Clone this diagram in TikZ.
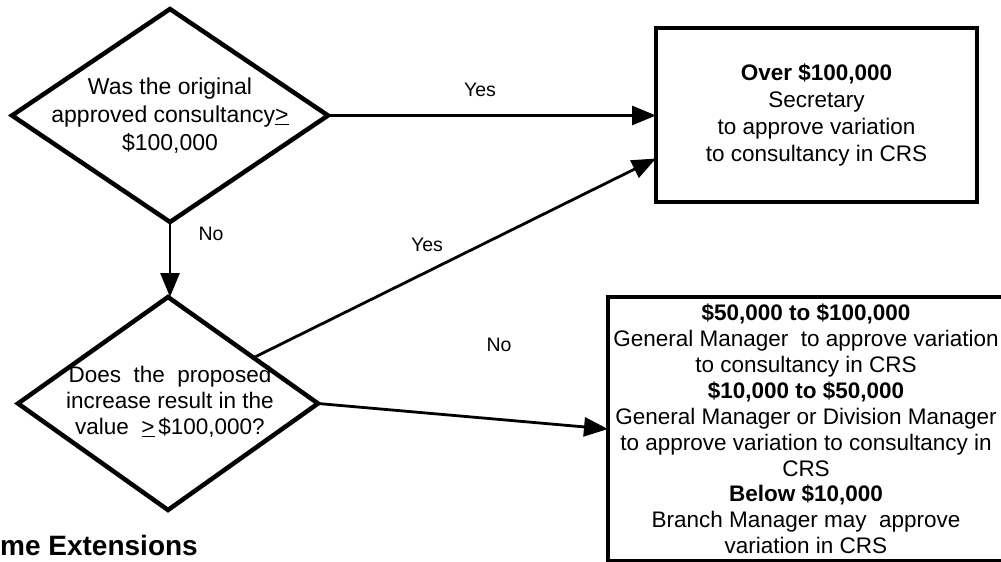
\documentclass[tikz,border=0pt]{standalone}
\usepackage{fontspec}
\setmainfont{Liberation Sans}
\usetikzlibrary{shapes.geometric,arrows.meta,calc}
\begin{document}
\begin{tikzpicture}[x=1pt,y=-1pt,
  dia/.style={draw,shape=diamond,line width=4.5pt,inner sep=0pt,outer sep=0pt},
  boxnode/.style={draw,rectangle,line width=4pt,inner sep=0pt,outer sep=0pt,align=center},
  txt/.style={align=center,inner sep=0pt},
  conn/.style={line width=2.8pt,-{Triangle[length=24pt,width=19pt]}},
  lbl/.style={inner sep=0pt,font=\fontsize{19.5}{23}\selectfont}]
\useasboundingbox (0,0) rectangle (1001,562);
\clip (0,0) rectangle (1001,562);
\fill[white] (0,0) rectangle (1001,562);

% decisions
\node[dia,minimum width=316pt,minimum height=213pt] (d1) at (170,115.5) {};
\node[txt,font=\fontsize{23}{28}\selectfont] (t1) at (170,116)
  {Was the original\\approved consultancy\underline{>}\\\$100,000};
\node[dia,minimum width=300pt,minimum height=213pt] (d2) at (168,403.5) {};
\node[txt,font=\fontsize{22.5}{25.8}\selectfont] (t2) at (170,402)
  {Does\ \ the\ \ proposed\\increase result in the\\value\ \ \underline{>}\,\$100,000?};

% outcomes
\node[boxnode,minimum width=321pt,minimum height=174pt,
      font=\fontsize{22.5}{26.8}\selectfont] (b1) at (816.5,115)
  {\textbf{Over \$100,000}\\Secretary\\to approve variation\\to consultancy in CRS};
\node[boxnode,minimum width=396pt,minimum height=264pt,
      font=\fontsize{22.5}{25.9}\selectfont] (b2) at (806,429)
  {\textbf{\$50,000 to \$100,000}\\General Manager\ \ to approve variation\\to consultancy in CRS\\
   \textbf{\$10,000 to \$50,000}\\General Manager or Division Manager\\to approve variation to consultancy in\\CRS\\
   \textbf{Below \$10,000}\\Branch Manager may\ \ approve\\variation in CRS};

% connectors
\draw[conn] (d1.east) -- (b1.west |- d1.east);
\draw[conn] (d1.south) -- (d1.south |- d2.north);
\draw[conn] ($(d2.north)!0.57!(d2.east)$) -- ($(b1.south west)!0.25!(b1.north west)$);
\draw[conn] (d2.east) -- (b2.west);

% labels
\node[lbl] (yes1) at (480,90) {Yes};
\node[lbl] (no1) at (211,234) {No};
\node[lbl] (yes2) at (427,245) {Yes};
\node[lbl] (no2) at (499,345) {No};

\node[inner sep=0pt,anchor=base west,font=\fontsize{28}{32}\bfseries] (title) at (0,555) {me Extensions};
\end{tikzpicture}
\end{document}
